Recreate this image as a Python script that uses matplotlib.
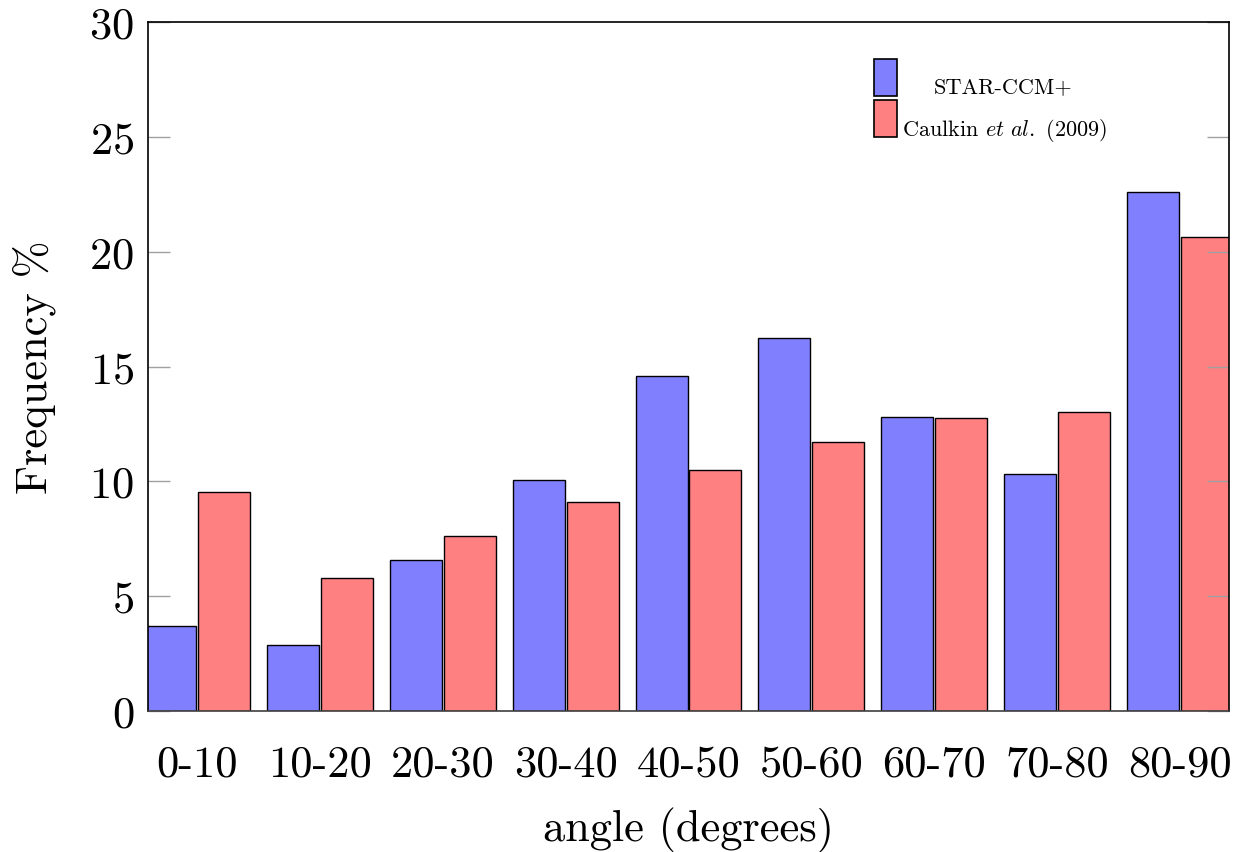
import numpy as np
import matplotlib
matplotlib.use("Agg")
import matplotlib.pyplot as plt
from matplotlib.patches import Rectangle

plt.rcParams.update({
    "font.family": "serif",
    "font.serif": ["cmr10"],
    "mathtext.fontset": "cm",
    "axes.unicode_minus": False,
    "axes.formatter.use_mathtext": True,
})

categories = ["0-10", "10-20", "20-30", "30-40", "40-50",
              "50-60", "60-70", "70-80", "80-90"]
star_ccm = [3.70, 2.87, 6.57, 10.06, 14.58, 16.24, 12.80, 10.32, 22.60]
caulkin = [9.53, 5.79, 7.62, 9.10, 10.49, 11.71, 12.76, 13.02, 20.64]
series_labels = ["STAR-CCM+", r"Caulkin $\mathit{et\ al.}$ (2009)"]
blue = "#8080ff"
red = "#ff8080"

fig = plt.figure(figsize=(12.42, 8.53), dpi=100)
ax = fig.add_axes([148 / 1242, 1 - 712 / 853, (1229 - 148) / 1242, (712 - 23) / 853])

x = np.arange(len(categories))
width = 0.423
gap = 0.008
ax.bar(x - gap - width / 2, star_ccm, width, color=blue, edgecolor="black",
       linewidth=1.0, zorder=2)
ax.bar(x + gap + width / 2, caulkin, width, color=red, edgecolor="black",
       linewidth=1.0, zorder=2)

ax.set_xlim(-0.4, 8.4)
ax.set_ylim(0, 30)
ax.set_yticks([0, 5, 10, 15, 20, 25, 30])
ax.set_xticks(x)
ax.set_xticklabels(categories)
ax.tick_params(axis="x", length=0, labelsize=32, pad=24)
ax.tick_params(axis="y", direction="in", length=16, width=1.0, color="#a0a0a0",
               labelsize=32, left=True, right=True, pad=10)
for yt in ax.yaxis.get_major_ticks():
    yt.tick1line.set_zorder(5)
    yt.tick2line.set_zorder(5)
ax.set_axisbelow(False)

for s in ax.spines.values():
    s.set_linewidth(1.2)
    s.set_color("black")
    s.set_zorder(6)
ax.spines["bottom"].set_color("#404040")

ax.set_xlabel("angle (degrees)", fontsize=32, labelpad=16)
ax.set_ylabel("Frequency %", fontsize=32, labelpad=24)

# legend drawn in axes coordinates
def fx(px):
    return (px - 148) / (1229 - 148)

def fy(py):
    return (712 - py) / (712 - 23)

ax.add_patch(Rectangle((fx(874), fy(97)), fx(897) - fx(874), fy(60) - fy(97),
                       transform=ax.transAxes, facecolor=blue, edgecolor="black",
                       linewidth=1.2, zorder=7, clip_on=False))
ax.add_patch(Rectangle((fx(874), fy(138)), fx(897) - fx(874), fy(101) - fy(138),
                       transform=ax.transAxes, facecolor=red, edgecolor="black",
                       linewidth=1.2, zorder=7, clip_on=False))
ax.text(fx(1003), fy(87), series_labels[0], transform=ax.transAxes,
        ha="center", va="center", fontsize=16, zorder=7)
ax.text(fx(902), fy(131), series_labels[1], transform=ax.transAxes,
        ha="left", va="center", fontsize=16, zorder=7)

fig.savefig("out.png", dpi=100)
